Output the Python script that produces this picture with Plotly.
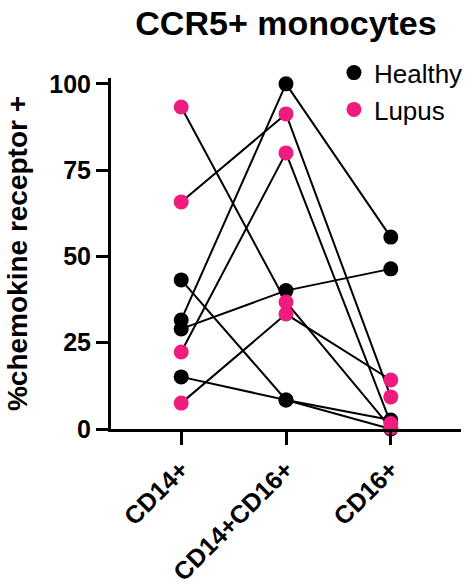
import plotly.graph_objects as go

categories = ["CD14+", "CD14+CD16+", "CD16+"]

# each list = one subject across the three monocyte subsets
healthy_1 = [43.2, 8.4, 2.6]
healthy_2 = [31.6, 100.0, 55.6]
healthy_3 = [29.0, 40.1, 46.4]
healthy_4 = [15.1, 8.4, 0.0]

lupus_1 = [93.3, 36.8, 0.3]
lupus_2 = [65.8, 91.3, 9.3]
lupus_3 = [22.3, 80.0, 1.6]
lupus_4 = [7.5, 33.3, 14.2]

healthy = [healthy_1, healthy_2, healthy_3, healthy_4]
lupus = [lupus_1, lupus_2, lupus_3, lupus_4]

y_ticks = [0, 25, 50, 75, 100]

PINK = "#EF1B7F"
FONT = "Liberation Sans, Arial, sans-serif"

fig = go.Figure()

# connecting lines per subject
for subj in healthy + lupus:
    fig.add_trace(go.Scatter(
        x=categories, y=subj, mode="lines",
        line=dict(color="black", width=2),
        showlegend=False, hoverinfo="skip", cliponaxis=False,
    ))

# markers
hx, hy = [], []
for subj in healthy:
    hx += categories
    hy += subj
lx, ly = [], []
for subj in lupus:
    lx += categories
    ly += subj

fig.add_trace(go.Scatter(
    x=hx, y=hy, mode="markers", name="Healthy",
    marker=dict(color="black", size=15, line=dict(width=0)),
    cliponaxis=False,
))
fig.add_trace(go.Scatter(
    x=lx, y=ly, mode="markers", name="Lupus",
    marker=dict(color=PINK, size=15, line=dict(width=0)),
    cliponaxis=False,
))

fig.update_layout(
    width=474, height=586,
    margin=dict(l=111, r=13, t=78, b=157, autoexpand=False),
    paper_bgcolor="white", plot_bgcolor="white",
    font=dict(family=FONT, color="black"),
    title=dict(
        text="<b>CCR5+ monocytes</b>",
        font=dict(size=34, family=FONT, color="black"),
        x=0.5, xref="paper", xanchor="center",
        y=1 - 23 / 586, yref="container", yanchor="middle",
    ),
    legend=dict(
        x=0.637, y=1.082, xanchor="left", yanchor="top",
        font=dict(size=26, family=FONT, color="black"),
        bgcolor="rgba(0,0,0,0)",
        itemsizing="trace",
        tracegroupgap=0,
    ),
    xaxis=dict(
        type="category",
        range=[-0.67, 2.67],
        automargin=False,
        showline=True, linecolor="black", linewidth=3,
        ticks="outside", ticklen=13, tickwidth=3, tickcolor="black",
        tickangle=-45,
        tickfont=dict(size=25, family=FONT, color="black", weight="bold"),
        showgrid=False, zeroline=False,
    ),
    yaxis=dict(
        range=[0, 101.7],
        automargin=False,
        tickvals=y_ticks,
        showline=True, linecolor="black", linewidth=3,
        ticks="outside", ticklen=12, tickwidth=3, tickcolor="black",
        tickfont=dict(size=25, family=FONT, color="black", weight="bold"),
        showgrid=False, zeroline=False,
        title=dict(
            text="<b>%chemokine receptor +</b>",
            font=dict(size=28, family=FONT, color="black"),
            standoff=14,
        ),
    ),
)

fig.write_html("out.html")
